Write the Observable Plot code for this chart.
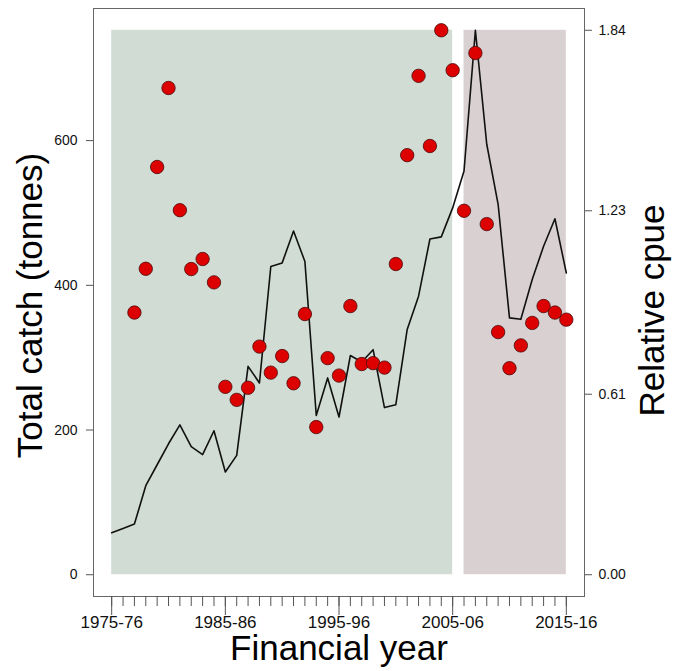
<!DOCTYPE html>
<html>
<head>
<meta charset="utf-8">
<script src="https://cdn.jsdelivr.net/npm/d3@7"></script>
<script src="https://cdn.jsdelivr.net/npm/@observablehq/plot@0.6"></script>
<style>
  html, body { margin: 0; padding: 0; background: #fff; }
  #chart svg { display: block; }
</style>
</head>
<body>
<div id="chart"></div>
<script>
// Total catch (tonnes), line
const catchYears = [1975,1976,1977,1978,1979,1980,1981,1982,1983,1984,1985,1986,1987,1988,1989,1990,1991,1992,1993,1994,1995,1996,1997,1998,1999,2000,2001,2002,2003,2004,2005,2006,2007,2008,2009,2010,2011,2012,2013,2014,2015];
const catchValues = [58,64,70,123,152,181,207,177,166,199,142,165,288,265,426,431,475,433,220,272,218,303,294,311,231,235,339,385,464,467,507,558,752.5,595,512,355,353,408,454,492,417];

// Relative cpue, points
const cpueYears = [1977,1978,1979,1980,1981,1982,1983,1984,1985,1986,1987,1988,1989,1990,1991,1992,1993,1994,1995,1996,1997,1998,1999,2000,2001,2002,2003,2004,2005,2006,2007,2008,2009,2010,2011,2012,2013,2014,2015];
const cpueValues = [0.886,1.034,1.378,1.645,1.232,1.033,1.067,0.988,0.635,0.591,0.632,0.771,0.683,0.739,0.647,0.881,0.499,0.732,0.673,0.908,0.712,0.715,0.700,1.050,1.418,1.686,1.449,1.840,1.705,1.230,1.763,1.185,0.820,0.698,0.775,0.851,0.908,0.886,0.862];

// Periods (shaded)
const periodStarts = [1975, 2006];
const periodEnds = [2005, 2015];
const periodColors = ["#d1dcd4", "#d9d0d1"];

// Axis ticks
const minorYears = [1975,1976,1977,1978,1979,1980,1981,1982,1983,1984,1985,1986,1987,1988,1989,1990,1991,1992,1993,1994,1995,1996,1997,1998,1999,2000,2001,2002,2003,2004,2005,2006,2007,2008,2009,2010,2011,2012,2013,2014,2015];
const majorYears = [1975, 1985, 1995, 2005, 2015];
const majorLabels = ["1975-76", "1985-86", "1995-96", "2005-06", "2015-16"];
const catchTicks = [0, 200, 400, 600];
const cpueTicks = [0, 0.61, 1.23, 1.84];

const maxCatch = d3.max(catchValues);
const maxCpue = d3.max(cpueValues);
const k = maxCatch / maxCpue;

const lineData = catchYears.map((y, i) => ({year: y, value: catchValues[i]}));
const dotData = cpueYears.map((y, i) => ({year: y, cpue: cpueValues[i]}));
const periods = periodStarts.map((s, i) => ({start: s, end: periodEnds[i], fill: periodColors[i]}));

const xPad = (2015 - 1975) * 0.04;
const yPad = maxCatch * 0.04;

const font = "'Liberation Sans', Arial, Helvetica, sans-serif";

const chart = Plot.plot({
  width: 673,
  height: 671,
  marginLeft: 93,
  marginRight: 89,
  marginTop: 8,
  marginBottom: 75,
  style: {fontFamily: font, background: "#fff", color: "#111"},
  x: {domain: [1975 - xPad, 2015 + xPad]},
  y: {domain: [-yPad, maxCatch + yPad]},
  marks: [
    Plot.rect(periods, {x1: "start", x2: "end", y1: 0, y2: maxCatch, fill: d => d.fill}),
    Plot.line(lineData, {x: "year", y: "value", stroke: "#111", strokeWidth: 1.6}),
    Plot.dot(dotData, {x: "year", y: d => d.cpue * k, r: 6.7, fill: "#dd0000", stroke: "#4a0a0a", strokeWidth: 0.8}),
    Plot.frame({stroke: "#666", strokeWidth: 1}),
    Plot.axisX({ticks: minorYears, tickSize: 10, tickFormat: () => "", label: null, stroke: "#555"}),
    Plot.axisX({ticks: majorYears, tickSize: 19, tickPadding: 0, tickFormat: d => majorLabels[majorYears.indexOf(d)], label: null, fontSize: 17, stroke: "#555", fill: "#111"}),
    Plot.axisY({anchor: "left", ticks: catchTicks, tickSize: 7, tickPadding: 9, label: null, fontSize: 14, stroke: "#555", fill: "#111"}),
    Plot.axisY({anchor: "right", ticks: cpueTicks.map(v => v * k), tickSize: 7, tickPadding: 7, tickFormat: d => (d / k).toFixed(2), label: null, fontSize: 14, stroke: "#555", fill: "#111"}),
    Plot.text(["Total catch (tonnes)"], {frameAnchor: "left", textAnchor: "middle", lineAnchor: "middle", dx: -63, dy: 3, rotate: -90, fontSize: 35, fill: "#000", text: d => d}),
    Plot.text(["Relative cpue"], {frameAnchor: "right", textAnchor: "middle", lineAnchor: "middle", dx: 68, dy: 8, rotate: -90, fontSize: 35, fill: "#000", text: d => d}),
    Plot.text(["Financial year"], {frameAnchor: "bottom", textAnchor: "middle", lineAnchor: "middle", dy: 52, fontSize: 35, fill: "#000", text: d => d})
  ]
});
document.getElementById("chart").appendChild(chart);
</script>
</body>
</html>
